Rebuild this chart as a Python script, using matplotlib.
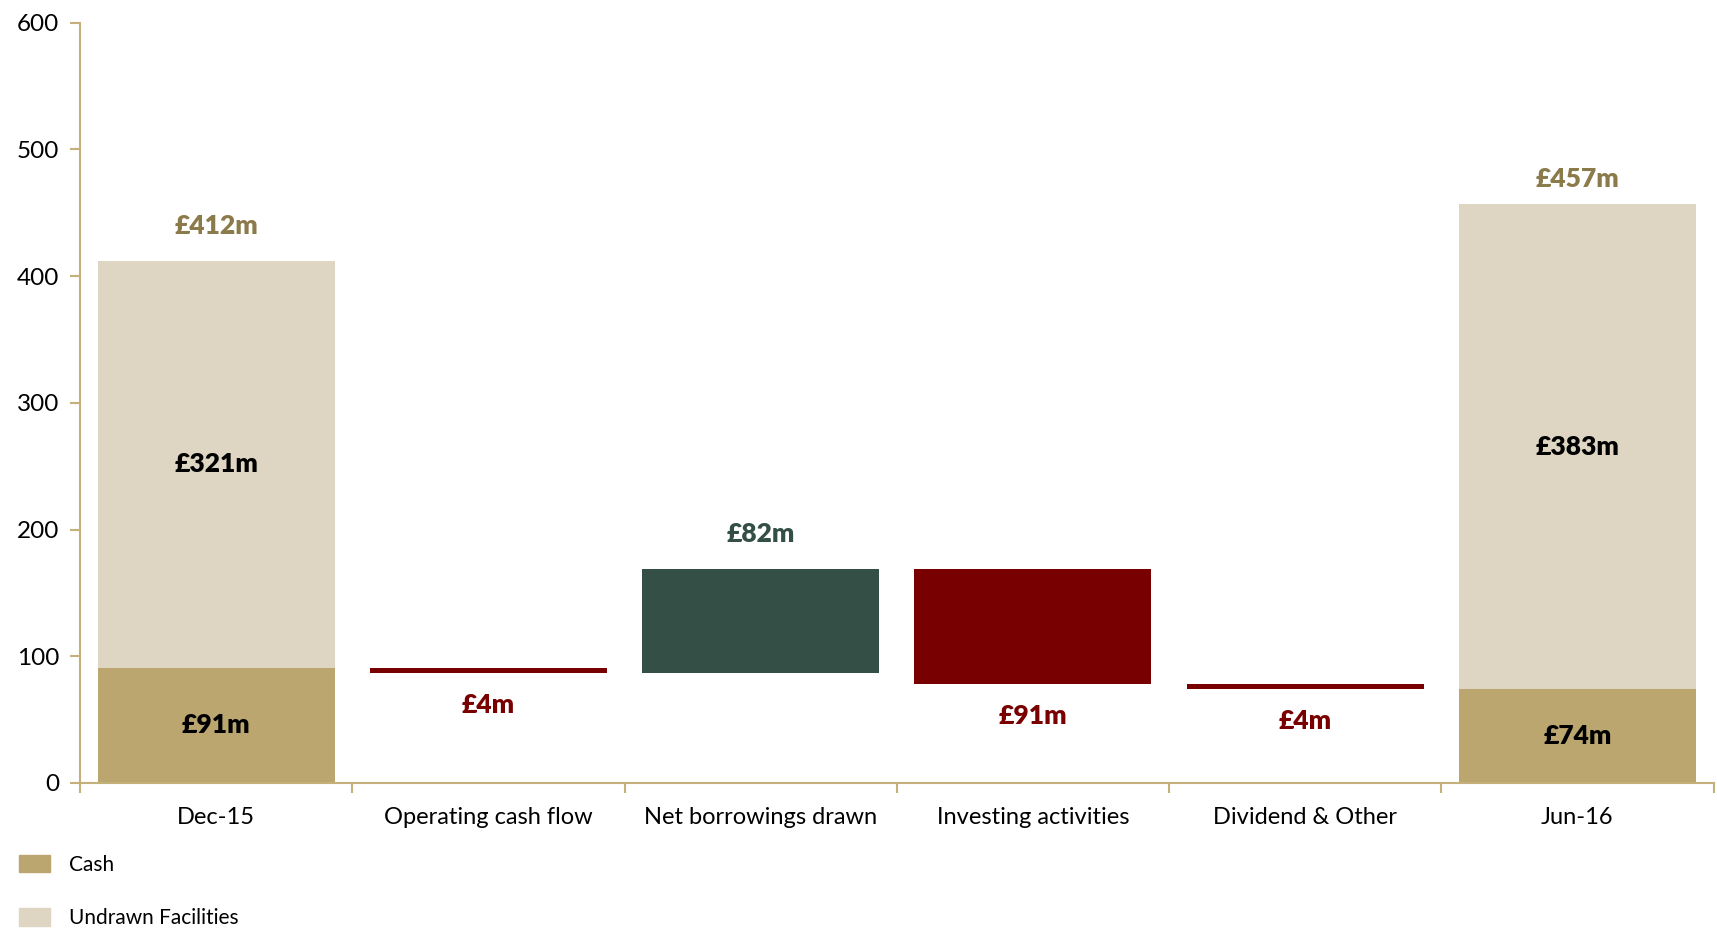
import numpy as np
import matplotlib
matplotlib.use('Agg')
import matplotlib.pyplot as plt
from matplotlib.patches import Patch

# liquidity bridge, £m
categories = ['Dec-15', 'Operating cash flow', 'Net borrowings drawn',
              'Investing activities', 'Dividend & Other', 'Jun-16']
cash_open = 91
undrawn_open = 321
total_open = 412
movements = [-4, 82, -91, -4]
cash_close = 74
undrawn_close = 383
total_close = 457

gold_dark = '#BCA66F'
gold_light = '#DED6C2'
green = '#344F45'
red = '#780000'
axis_col = '#C4B07A'
total_col = '#8B7A4A'

plt.rcParams['font.family'] = ['Lato', 'DejaVu Sans']

fig = plt.figure(figsize=(17.17, 9.31), dpi=100)
ax = fig.add_axes([0.0466, 0.159, 0.9514, 0.8166])

x = np.arange(len(categories))
w = 0.87

# opening and closing stacked bars
ax.bar(x[0], cash_open, w, color=gold_dark)
ax.bar(x[0], undrawn_open, w, bottom=cash_open, color=gold_light)
ax.bar(x[-1], cash_close, w, color=gold_dark)
ax.bar(x[-1], undrawn_close, w, bottom=cash_close, color=gold_light)

lbl = dict(ha='center', va='center', fontsize=19, fontweight='heavy')
ax.text(x[0], cash_open / 2, '£%dm' % cash_open, color='black', **lbl)
ax.text(x[0], cash_open + undrawn_open / 2, '£%dm' % undrawn_open, color='black', **lbl)
ax.text(x[-1], cash_close / 2, '£%dm' % cash_close, color='black', **lbl)
ax.text(x[-1], cash_close + undrawn_close / 2, '£%dm' % undrawn_close, color='black', **lbl)
ax.annotate('£%dm' % total_open, (x[0], total_open), xytext=(0, 25),
            textcoords='offset points', color=total_col, **lbl)
ax.annotate('£%dm' % total_close, (x[-1], total_close), xytext=(0, 18),
            textcoords='offset points', color=total_col, **lbl)

# floating movement bars
level = cash_open
for i, m in enumerate(movements, start=1):
    col = green if m > 0 else red
    ax.bar(x[i], m, w, bottom=level, color=col)
    if m > 0:
        ax.annotate('£%dm' % abs(m), (x[i], level + m), xytext=(0, 25),
                    textcoords='offset points', color=col, **lbl)
    else:
        ax.annotate('£%dm' % abs(m), (x[i], level + m), xytext=(0, -23),
                    textcoords='offset points', color=col, **lbl)
    level += m

ax.set_xlim(-0.5, len(categories) - 0.5)
ax.set_ylim(0, 600)
ax.set_yticks(np.arange(0, 601, 100))
ax.set_xticks(x)
ax.set_xticklabels(categories)
ax.set_xticks(np.arange(-0.5, len(categories)), minor=True)

for s in ['top', 'right']:
    ax.spines[s].set_visible(False)
for s in ['left', 'bottom']:
    ax.spines[s].set_color(axis_col)
    ax.spines[s].set_linewidth(1.5)

ax.tick_params(axis='x', which='major', length=0, pad=17, labelsize=17)
ax.tick_params(axis='x', which='minor', length=7, width=1.5, color=axis_col)
ax.tick_params(axis='y', length=7, width=1.5, color=axis_col, labelsize=17.5, pad=8)

handles = [Patch(color=gold_dark, label='Cash'),
           Patch(color=gold_light, label='Undrawn Facilities')]
fig.legend(handles=handles, loc='lower left', bbox_to_anchor=(0.0, -0.017),
           frameon=False, fontsize=15, handlelength=1.5, handleheight=0.9,
           labelspacing=1.6, handletextpad=0.9)

fig.savefig('out.png', dpi=100)
